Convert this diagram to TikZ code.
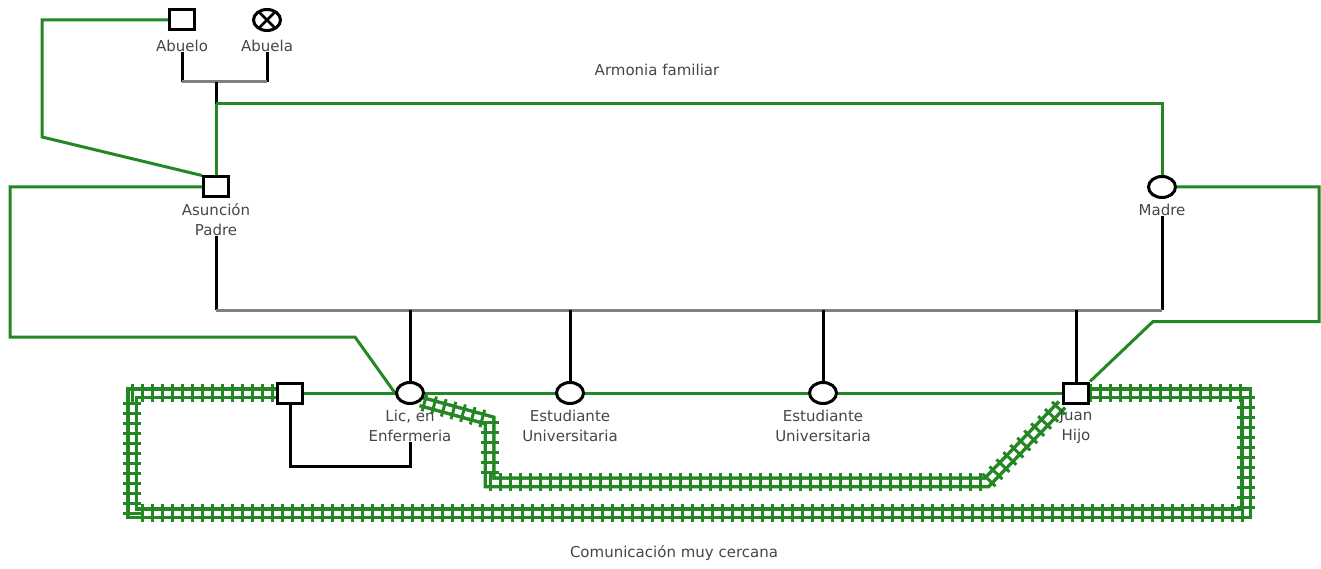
\documentclass[tikz,border=0pt]{standalone}
\usepackage{fontspec}
\setmainfont{DejaVu Sans}
\usetikzlibrary{positioning}
\usetikzlibrary{shapes.geometric}
\usetikzlibrary{backgrounds}
\usetikzlibrary{decorations.markings}
\definecolor{grn}{RGB}{35,135,35}
\definecolor{txt}{RGB}{70,70,70}

\begin{document}
\begin{tikzpicture}[x=1pt, y=-1pt,
		    male/.style={rectangle, draw=black, fill=white, line width=3pt, minimum width=25pt, minimum height=20pt},
		    female/.style={ellipse, draw=black, fill=white, line width=3pt, minimum width=27pt, minimum height=21pt},
		    lbl/.style={font=\fontsize{15}{20}\selectfont, text=txt, align=center, inner sep=0pt},
		    kin/.style={draw=black, line width=3pt},
		    tie/.style={draw=gray, line width=3pt},
		    harm/.style={draw=grn, line width=3pt},
		    rail/.style={draw=grn, line width=12pt,
		        postaction={draw=white, line width=5pt},
		        postaction={decorate, decoration={markings,
		            mark=between positions 4pt and 1 step 10pt with {\draw[grn, line width=3pt] (0,-9pt) -- (0,9pt);}}}}]
\useasboundingbox (0,0) rectangle (1321,569);

% grandparents
\node[male] (abuelo) at (182,20) {};
\node[female, path picture={\draw[line width=2.5pt] (abuela.45) -- (abuela.225) (abuela.135) -- (abuela.315);}] (abuela) at (267,20) {};
\node[lbl, below=8pt of abuelo] (abuelo-l) {Abuelo};
\node[lbl, below=8pt of abuela] (abuela-l) {Abuela};

% parents
\node[male] (asuncion) at (216,187) {};
\node[lbl, below=5pt of asuncion] (asuncion-l) {Asunción\\Padre};
\node[female] (madre) at (1162,187) {};
\node[lbl, below=5pt of madre] (madre-l) {Madre};

% children
\node[male] (pareja) at (290,393) {};
\node[female] (lic) at (410,393) {};
\node[female] (est1) at (570,393) {};
\node[female] (est2) at (823,393) {};
\node[male] (juan) at (1076,393) {};
\node[lbl, below=5pt of lic] (lic-l) {Lic, en\\Enfermeria};
\node[lbl, below=5pt of est1] (est1-l) {Estudiante\\Universitaria};
\node[lbl, below=5pt of est2] (est2-l) {Estudiante\\Universitaria};
\node[lbl, below=5pt of juan] (juan-l) {Juan\\Hijo};

\node[lbl] (armonia) at (657,70) {Armonia familiar};
\node[lbl] (comunicacion) at (674,553) {Comunicación muy cercana};

\coordinate (gp) at (216,82);
\coordinate (ar) at (216,104);
\coordinate (pm) at (216,310);

\begin{scope}[on background layer]
% family ties
\draw[kin] (abuelo-l.south) -- (abuelo-l.south |- gp);
\draw[kin] (abuela-l.south) -- (abuela-l.south |- gp);
\draw[tie] (abuelo-l.south |- gp) -- (abuela-l.south |- gp);
\draw[kin] (gp) -- (ar);
\draw[kin] (asuncion-l.south) -- (asuncion-l.south |- pm);
\draw[kin] (madre-l.south) -- (madre-l.south |- pm);
\draw[tie] (asuncion-l.south |- pm) -- (madre-l.south |- pm);
\foreach \c in {lic,est1,est2,juan}
    \draw[kin] (\c |- pm) -- (\c);
\draw[kin] (pareja) -- ++(0,73) -| (lic-l.south);

% harmony
\draw[harm] (ar) -- (asuncion);
\draw[harm] (ar) -| (madre);
\draw[harm] (abuelo.west) -- ++(-126,0) -- ++(0,117) -- (asuncion.north west);
\draw[harm] (asuncion.west) -- ++(-192,0) -- ++(0,150) -- ++(345,0) -- (lic.west);
\draw[harm] (pareja) -- (juan);
\draw[harm] (juan.north east) -- ++(63,-60) -- ++(166,0) |- (madre.east);

% very close communication
\draw[rail] (pareja.west) -- ++(-144,0) -- ++(0,120) -- ++(1114,0) -- ++(0,-120) -- (juan.east);
\draw[rail] (lic.south east) -- ++(69,19) -- ++(0,62) -- ++(497,0) -- (juan.south west);
\end{scope}
\end{tikzpicture}
\end{document}
